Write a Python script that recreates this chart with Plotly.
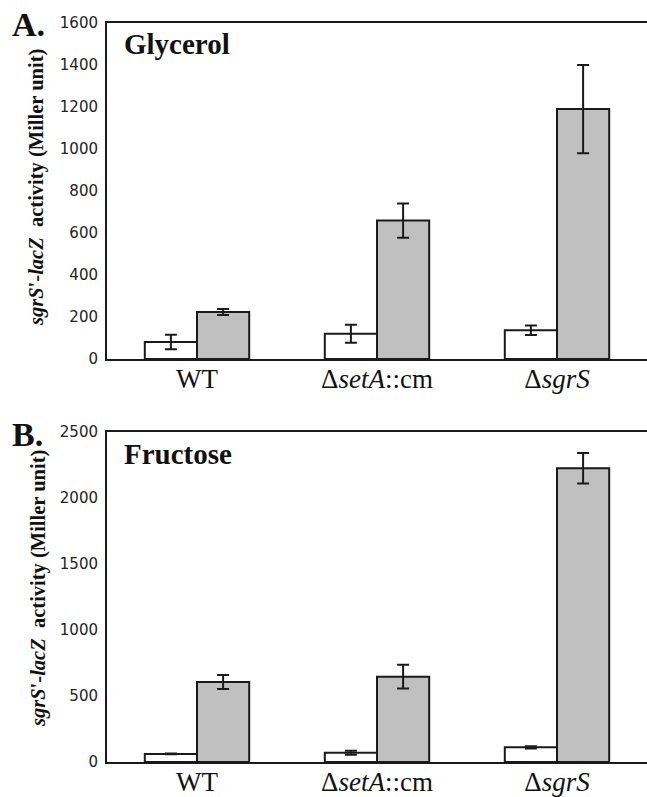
import plotly.graph_objects as go

categories = ["WT", "Δ<i>setA</i>::cm", "Δ<i>sgrS</i>"]

# Panel A: Glycerol
glyc_white = [81, 120, 137]
glyc_white_err = [35, 43, 23]
glyc_grey = [224, 659, 1190]
glyc_grey_err = [14, 82, 210]

# Panel B: Fructose
fruc_white = [61, 70, 111]
fruc_white_err = [3, 15, 8]
fruc_grey = [606, 646, 2225]
fruc_grey_err = [53, 90, 115]

yticks_a = [0, 200, 400, 600, 800, 1000, 1200, 1400, 1600]
yticks_b = [0, 500, 1000, 1500, 2000, 2500]

WHITE = "#ffffff"
GREY = "#c0c0c0"
LINE = "#1a1a1a"
SERIF = "Liberation Serif, Times New Roman, serif"

fig = go.Figure()


def add_bars(vals, errs, color, xa, ya, group):
    fig.add_trace(go.Bar(
        x=categories, y=vals, xaxis=xa, yaxis=ya,
        offsetgroup=group,
        marker=dict(color=color, line=dict(color=LINE, width=2)),
        error_y=dict(type="data", array=errs, visible=True,
                     color=LINE, thickness=2, width=6),
        showlegend=False,
    ))


add_bars(glyc_white, glyc_white_err, WHITE, "x", "y", "w")
add_bars(glyc_grey, glyc_grey_err, GREY, "x", "y", "g")
add_bars(fruc_white, fruc_white_err, WHITE, "x2", "y2", "w")
add_bars(fruc_grey, fruc_grey_err, GREY, "x2", "y2", "g")

xdom = [107 / 647, 1.0]
ydom_a = [1 - 359 / 797, 1 - 23 / 797]
ydom_b = [1 - 762 / 797, 1 - 432 / 797]

xaxis_common = dict(
    domain=xdom, showline=True, linecolor=LINE, linewidth=2, mirror=True,
    ticks="", showgrid=False, zeroline=False, automargin=False,
    ticklabelstandoff=-5,
    tickfont=dict(family=SERIF, size=27, color="#111"),
)
yaxis_common = dict(
    showline=True, linecolor=LINE, linewidth=2, ticks="", showgrid=False,
    zeroline=False, ticklabelstandoff=4, automargin=False,
    tickfont=dict(family="DejaVu Sans", size=15, color="#222"),
)

fig.update_layout(
    template="none",
    width=647, height=797,
    margin=dict(l=0, r=0, t=0, b=0, autoexpand=False),
    paper_bgcolor="white", plot_bgcolor="white",
    barmode="group", bargap=0.42, bargroupgap=0,
    showlegend=False,
    xaxis=dict(xaxis_common, anchor="y"),
    xaxis2=dict(xaxis_common, anchor="y2"),
    yaxis=dict(yaxis_common, domain=ydom_a, anchor="x", range=[0, 1600],
               tickvals=yticks_a),
    yaxis2=dict(yaxis_common, domain=ydom_b, anchor="x2", range=[0, 2500],
                tickvals=yticks_b),
)

ytitle = "<b><i>sgrS</i>'-<i>lacZ</i>  activity (Miller unit)</b>"
annotations = [
    dict(text="<b>A.</b>", x=10, y=4, font=dict(family=SERIF, size=34, color="#111")),
    dict(text="<b>B.</b>", x=10, y=414, font=dict(family=SERIF, size=34, color="#111")),
    dict(text="<b>Glycerol</b>", x=122, y=26, font=dict(family=SERIF, size=29, color="#111")),
    dict(text="<b>Fructose</b>", x=122, y=436, font=dict(family=SERIF, size=29, color="#111")),
]
for a in annotations:
    fig.add_annotation(xref="paper", yref="paper", x=a["x"] / 647, y=1 - a["y"] / 797,
                       xanchor="left", yanchor="top", text=a["text"], font=a["font"],
                       showarrow=False)

fig.add_annotation(xref="paper", yref="paper", x=36 / 647, y=1 - 188 / 797,
                   xanchor="center", yanchor="middle", textangle=-90, text=ytitle,
                   font=dict(family=SERIF, size=20.5, color="#111"), showarrow=False)
fig.add_annotation(xref="paper", yref="paper", x=38 / 647, y=1 - 589 / 797,
                   xanchor="center", yanchor="middle", textangle=-90, text=ytitle,
                   font=dict(family=SERIF, size=20.5, color="#111"), showarrow=False)

fig.write_html("out.html")
